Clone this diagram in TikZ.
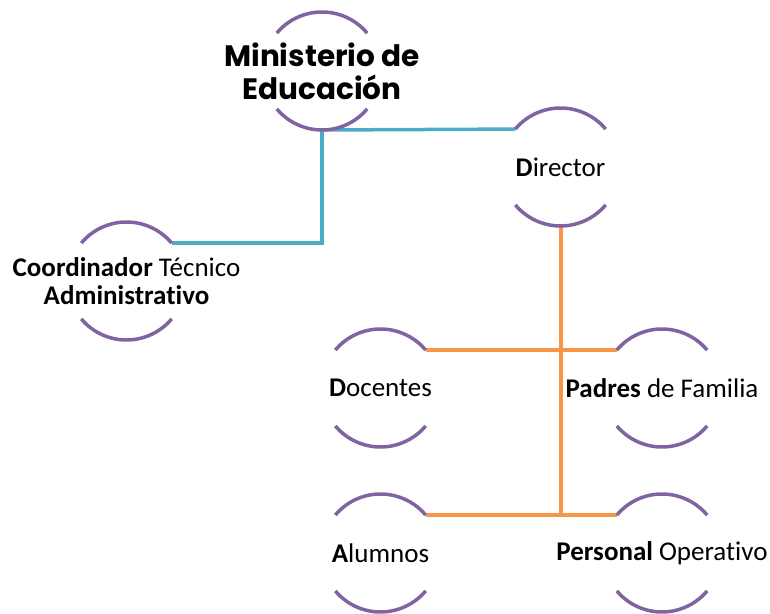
\documentclass[tikz,border=0pt]{standalone}
\usepackage{fontspec}
\setmainfont{Carlito}[Ligatures=NoCommon]
\newfontfamily\titlefont{Poppins}
\definecolor{ringpurple}{HTML}{8064A2}
\definecolor{linkblue}{HTML}{4BACC6}
\definecolor{linkorange}{HTML}{F79646}
\tikzset{
  ring/.style={circle, minimum size=118pt, inner sep=0pt, outer sep=0pt, draw=none},
  arcline/.style={draw=ringpurple, line width=3.5pt},
  bluelink/.style={draw=linkblue, line width=3.5pt},
  orangelink/.style={draw=linkorange, line width=4pt},
  txt/.style={align=center, inner sep=0pt, font=\fontsize{27}{28}\selectfont},
  ttl/.style={align=center, inner sep=0pt, font=\titlefont\bfseries\fontsize{29.5}{33}\selectfont}
}
\newcommand{\ringarcs}[1]{%
  \draw[arcline] (#1.140) arc[start angle=140, end angle=40, radius=59pt];
  \draw[arcline] (#1.220) arc[start angle=220, end angle=320, radius=59pt];
}
\begin{document}
\begin{tikzpicture}[x=1pt,y=1pt]
\useasboundingbox (0,0) rectangle (770,613);
\node[ring] (min) at (322,542) {};
\node[ring] (dir) at (560.5,446) {};
\node[ring] (coord) at (126.5,332) {};
\node[ring] (doc) at (380.5,225) {};
\node[ring] (pad) at (662,225) {};
\node[ring] (alu) at (380.5,60) {};
\node[ring] (per) at (662,60) {};
% connectors
\draw[bluelink] (min.south) |- (coord.40);
\draw[bluelink] (min.south) -- (dir.140);
\draw[orangelink] (dir.south) -- (dir.south |- alu.40);
\draw[orangelink] (doc.40) -- (pad.140);
\draw[orangelink] (alu.40) -- (per.140);
% rings
\ringarcs{min}
\ringarcs{dir}
\ringarcs{coord}
\ringarcs{doc}
\ringarcs{pad}
\ringarcs{alu}
\ringarcs{per}
% texts
\node[ttl] (mint) at (min) {Ministerio de\\Educación};
\node[txt] (dirt) at (dir) {\textbf{D}irector};
\node[txt] (coordt) at (coord) {\textbf{Coordinador} Técnico\\\textbf{Administrativo}};
\node[txt] (doct) at (doc) {\textbf{D}ocentes};
\node[txt] (padt) at (pad) {\textbf{Padres} de Familia};
\node[txt] (alut) at (alu) {\textbf{A}lumnos};
\node[txt] (pert) at (per) {\textbf{Personal} Operativo};
\end{tikzpicture}
\end{document}
